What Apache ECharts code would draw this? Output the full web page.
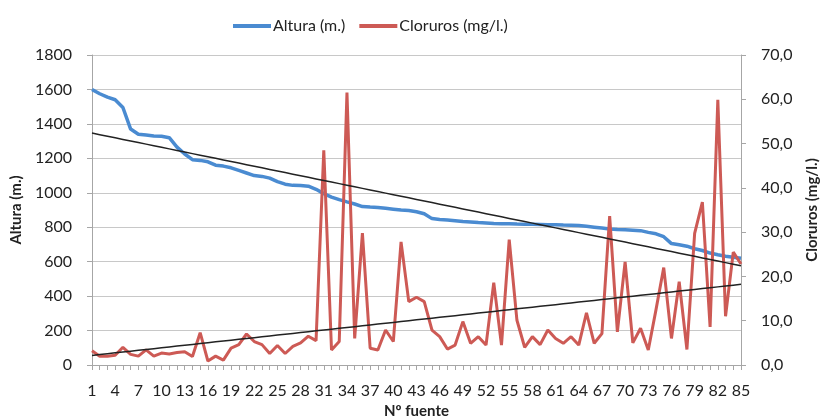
<!DOCTYPE html>
<html><head><meta charset="utf-8">
<script src="https://cdn.jsdelivr.net/npm/echarts@6/dist/echarts.min.js"></script>
<style>html,body{margin:0;padding:0;background:#fff}#c{width:823px;height:416px}</style>
</head><body><div id="c"></div>
<script>
var categories = [];
for (var k = 1; k <= 85; k++) categories.push(String(k));

var altura = [1600,1575,1555,1540,1495,1370,1340,1335,1330,1328,1320,1265,1225,1192,1188,1180,1160,1155,1145,1130,
1115,1100,1095,1085,1065,1050,1043,1042,1038,1020,995,975,960,947,935,920,917,915,910,905,
900,897,890,878,850,845,842,838,833,830,827,825,822,820,820,818,817,817,816,815,
815,813,812,810,805,800,795,790,787,785,783,780,770,762,745,705,698,690,675,665,
650,640,632,626,620];

var cloruros = [3.2,2.0,2.0,2.2,4.0,2.4,2.0,3.4,2.0,2.7,2.5,2.8,3.0,1.9,7.3,0.9,2.0,1.1,3.8,4.6,
7.0,5.3,4.6,2.6,4.4,2.6,4.2,5.0,6.5,5.5,48.5,3.4,5.3,61.5,6.0,29.8,3.8,3.4,7.9,5.3,
27.8,14.3,15.3,14.3,7.9,6.4,3.6,4.5,9.8,4.9,6.4,4.5,18.6,4.5,28.3,10.1,4.0,6.4,4.6,7.9,
6.0,4.9,6.4,4.5,11.8,4.9,7.1,33.6,7.5,23.3,5.0,8.3,3.4,12.5,22.0,6.0,18.8,3.5,29.7,36.8,
8.6,59.9,11.0,25.5,22.8];

var leftTicks = {min: 0, max: 1800, interval: 200};
var rightTicks = {min: 0, max: 70, interval: 10};

function trend(arr) {
  var n = arr.length, sx = 0, sy = 0, sxy = 0, sxx = 0;
  for (var i = 0; i < n; i++) { sx += i; sy += arr[i]; sxy += i * arr[i]; sxx += i * i; }
  var b = (n * sxy - sx * sy) / (n * sxx - sx * sx);
  var a = (sy - b * sx) / n;
  return arr.map(function (_, i) { return +(a + b * i).toFixed(3); });
}

var FONT = 'Lato';
var TXT = '#222';
var chart = echarts.init(document.getElementById('c'));
chart.setOption({
  animation: false,
  textStyle: {fontFamily: FONT},
  legend: {
    top: 13, left: 228, itemWidth: 38, itemHeight: 4, itemGap: 14,
    icon: 'rect',
    data: ['Altura (m.)', 'Cloruros (mg/l.)'],
    textStyle: {fontSize: 16, color: TXT, fontFamily: FONT, padding: [0, 0, 0, -3]}
  },
  grid: {left: 92, right: 82, top: 55, bottom: 51, containLabel: false, outerBoundsMode: 'none'},
  xAxis: {
    type: 'category', data: categories, boundaryGap: false,
    name: 'Nº fuente', nameLocation: 'middle', nameGap: 37,
    nameTextStyle: {fontSize: 15, fontWeight: 'bold', color: TXT, fontFamily: FONT},
    axisLine: {lineStyle: {color: '#a6a6a6'}},
    axisTick: {show: true, interval: 0, length: 5, lineStyle: {color: '#a6a6a6'}},
    axisLabel: {interval: 2, fontSize: 16, color: TXT, margin: 18, fontFamily: FONT},
    splitLine: {show: false}
  },
  yAxis: [{
    type: 'value', min: leftTicks.min, max: leftTicks.max, interval: leftTicks.interval,
    name: 'Altura (m.)', nameLocation: 'middle', nameGap: 64, nameRotate: 90,
    nameTextStyle: {fontSize: 15, fontWeight: 'bold', color: TXT, fontFamily: FONT},
    axisLine: {show: true, lineStyle: {color: '#a6a6a6'}},
    axisTick: {show: true, length: 5, lineStyle: {color: '#a6a6a6'}},
    axisLabel: {fontSize: 16, color: TXT, margin: 20, fontFamily: FONT,
      formatter: function (v) { return String(v); }},
    splitLine: {show: true, lineStyle: {color: '#c8c8c8', width: 1.2}}
  }, {
    type: 'value', min: rightTicks.min, max: rightTicks.max, interval: rightTicks.interval,
    name: 'Cloruros (mg/l.)', nameLocation: 'middle', nameGap: 64, nameRotate: 90,
    nameTextStyle: {fontSize: 15, fontWeight: 'bold', color: TXT, fontFamily: FONT},
    axisLine: {show: true, lineStyle: {color: '#a6a6a6'}},
    axisTick: {show: true, length: 5, lineStyle: {color: '#a6a6a6'}},
    axisLabel: {fontSize: 16, color: TXT, margin: 20, fontFamily: FONT,
      formatter: function (v) { return v.toFixed(1).replace('.', ','); }},
    splitLine: {show: false}
  }],
  series: [{
    name: 'Altura (m.)', type: 'line', data: altura, yAxisIndex: 0,
    symbol: 'none', lineStyle: {color: '#4a8bd1', width: 3.5}, itemStyle: {color: '#4a8bd1'}, z: 3
  }, {
    name: 'Cloruros (mg/l.)', type: 'line', data: cloruros, yAxisIndex: 1,
    symbol: 'none', lineStyle: {color: '#cd5a55', width: 3}, itemStyle: {color: '#cd5a55'}, z: 4
  }, {
    name: 'trendAltura', type: 'line', data: trend(altura), yAxisIndex: 0,
    symbol: 'none', lineStyle: {color: '#222', width: 1.5}, z: 5, silent: true
  }, {
    name: 'trendCloruros', type: 'line', data: trend(cloruros), yAxisIndex: 1,
    symbol: 'none', lineStyle: {color: '#222', width: 1.5}, z: 5, silent: true
  }]
});
</script></body></html>
